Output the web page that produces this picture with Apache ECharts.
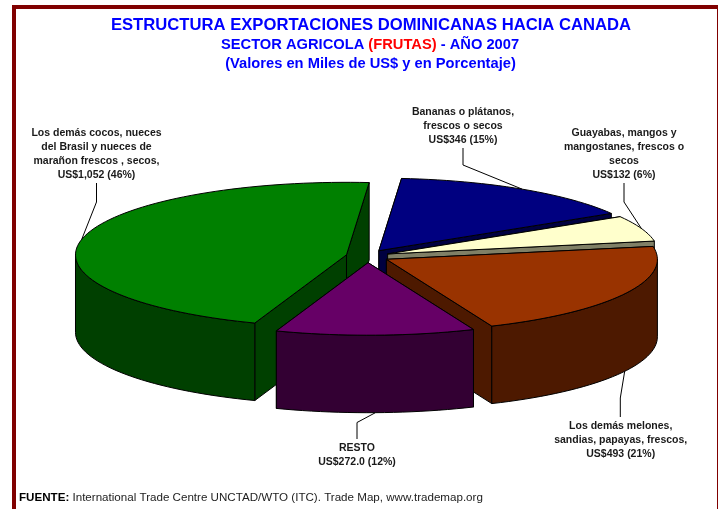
<!DOCTYPE html>
<html><head><meta charset="utf-8">
<style>html,body{margin:0;padding:0;background:#fff}#c{width:718px;height:509px}</style>
<script src="https://cdn.jsdelivr.net/npm/echarts@6/dist/echarts.min.js"></script>
</head><body><div id="c"></div>
<script>
// Data, clockwise from the top of the pie
const categories = ['Bananas o plátanos,\nfrescos o secos', 'Guayabas, mangos y\nmangostanes, frescos o\nsecos', 'Los demás melones,\nsandias, papayas, frescos,', 'RESTO', 'Los demás cocos, nueces\ndel Brasil y nueces de\nmarañon frescos , secos,'];
const values = [346, 132, 493, 272, 1052];
const valueLabels = ['US$346 (15%)', 'US$132 (6%)', 'US$493 (21%)', 'US$272.0 (12%)', 'US$1,052 (46%)'];
const topColors = ['#000080', '#FFFFCC', '#993300', '#660066', '#008000'];
const sideColors = ['#000040', '#808066', '#4D1900', '#330033', '#004000'];
// Layout
const drawOrder = [0, 1, 2, 4, 3];
const pie = {cx: 367.5, cy: 256.2, a: 271, b: 72.5, depth: 77.5, startDeg: -85.2, explodeX: 21.5, explodeY: 6.5};
const labelBox = [
  {x: 463, y: 105, elbowY: 165, elbowX: 463},
  {x: 624, y: 126, elbowY: 202, elbowX: 624},
  {x: 620.7, y: 419, elbowY: 398, elbowX: 620.3},
  {x: 357, y: 441, elbowY: 422.5, elbowX: 357},
  {x: 96.5, y: 126, elbowY: 202, elbowX: 96.5}
];
const total = values.reduce((s, v) => s + v, 0);
const rad = d => d * Math.PI / 180;
function sliceGeom(i) {
  let start = pie.startDeg;
  for (let k = 0; k < i; k++) start += values[k] / total * 360;
  const end = start + values[i] / total * 360;
  const mid = (start + end) / 2;
  const ox = pie.cx + pie.explodeX * Math.cos(rad(mid));
  const oy = pie.cy + pie.explodeY * Math.sin(rad(mid));
  return {start, end, mid, ox, oy, at: t => [ox + pie.a * Math.cos(rad(t)), oy + pie.b * Math.sin(rad(t))]};
}
function arcPts(g, from, to) {
  const n = Math.max(2, Math.ceil(Math.abs(to - from) / 2));
  const r = [];
  for (let j = 0; j <= n; j++) r.push(g.at(from + (to - from) * j / n));
  return r;
}
const stroke = {stroke: '#000', lineWidth: 1};
function renderSlice(params) {
  const i = drawOrder[params.dataIndex];
  const g = sliceGeom(i);
  const d = pie.depth, kids = [];
  const face = t => {
    const p = g.at(t);
    return {type: 'polygon', shape: {points: [[g.ox, g.oy], p, [p[0], p[1] + d], [g.ox, g.oy + d]]}, style: {fill: sideColors[i], ...stroke}};
  };
  kids.push(face(g.start), face(g.end));
  // outer wall: the parts facing the viewer, sin(t) > 0
  for (const base of [0, 360]) {
    const a0 = Math.max(g.start, base), a1 = Math.min(g.end, base + 180);
    if (a1 > a0) {
      const top = arcPts(g, a0, a1);
      const bot = top.map(p => [p[0], p[1] + d]).reverse();
      kids.push({type: 'polygon', shape: {points: top.concat(bot)}, style: {fill: sideColors[i], ...stroke}});
    }
  }
  kids.push({type: 'polygon', shape: {points: [[g.ox, g.oy]].concat(arcPts(g, g.start, g.end))}, style: {fill: topColors[i], ...stroke}});
  return {type: 'group', children: kids};
}
function renderLabel(params) {
  const i = params.dataIndex, g = sliceGeom(i), box = labelBox[i];
  const p = g.at(g.mid);
  const front = Math.sin(rad(g.mid)) > 0 && g.mid < 180;
  const end = [p[0], p[1] + (front ? pie.depth : 0)];
  const textH = (categories[i] + '\n' + valueLabels[i]).split('\n').length * 14;
  const near = front ? box.y - 2 : box.y + textH + 1;
  return {type: 'group', children: [
    {type: 'polyline', shape: {points: [end, [box.elbowX, box.elbowY], [box.elbowX, near]]}, style: {fill: 'none', stroke: '#000', lineWidth: 1}},
    {type: 'text', style: {text: categories[i] + '\n' + valueLabels[i], x: box.x, y: box.y, align: 'center', verticalAlign: 'top', lineHeight: 14, fill: '#1a1a1a', font: 'bold 10.5px "Liberation Sans", Arial, sans-serif'}}
  ]};
}
const chart = echarts.init(document.getElementById('c'), null, {renderer: 'canvas'});
chart.setOption({
  animation: false,
  backgroundColor: '#fff',
  title: [
    {text: 'ESTRUCTURA EXPORTACIONES DOMINICANAS HACIA CANADA', left: 366, top: 12, textAlign: 'center', textStyle: {color: '#0000FF', fontSize: 16.65, fontWeight: 'bold', fontFamily: 'Liberation Sans'}},
    {text: '{b|SECTOR AGRICOLA }{r|(FRUTAS)}{b| - AÑO 2007}', left: 365, top: 32, textAlign: 'center', textStyle: {rich: {
      b: {color: '#0000FF', fontSize: 14.7, fontWeight: 'bold', fontFamily: 'Liberation Sans'},
      r: {color: '#FF0000', fontSize: 14.7, fontWeight: 'bold', fontFamily: 'Liberation Sans'}}}},
    {text: '(Valores en Miles de US$ y en Porcentaje)', left: 365.5, top: 51, textAlign: 'center', textStyle: {color: '#0000FF', fontSize: 14.7, fontWeight: 'bold', fontFamily: 'Liberation Sans'}},
    {text: '{b|FUENTE:}{n| International Trade Centre UNCTAD/WTO (ITC). Trade Map, www.trademap.org}', left: 14, top: 487, textStyle: {rich: {
      b: {color: '#000', fontSize: 11.6, fontWeight: 'bold', fontFamily: 'Liberation Sans'},
      n: {color: '#222', fontSize: 11.6, fontWeight: 'normal', fontFamily: 'Liberation Sans'}}}}
  ],
  graphic: [
    {type: 'rect', shape: {x: 12, y: 5, width: 4, height: 504}, style: {fill: '#800000'}},
    {type: 'rect', shape: {x: 12, y: 5, width: 706, height: 4}, style: {fill: '#800000'}},
    {type: 'rect', shape: {x: 717, y: 5, width: 1, height: 504}, style: {fill: '#800000'}}
  ],
  series: [
    {type: 'custom', coordinateSystem: 'none', z: 2, data: drawOrder.map(i => values[i]), renderItem: renderSlice, silent: true},
    {type: 'custom', coordinateSystem: 'none', z: 3, data: values, renderItem: renderLabel, silent: true}
  ]
});
</script></body></html>
